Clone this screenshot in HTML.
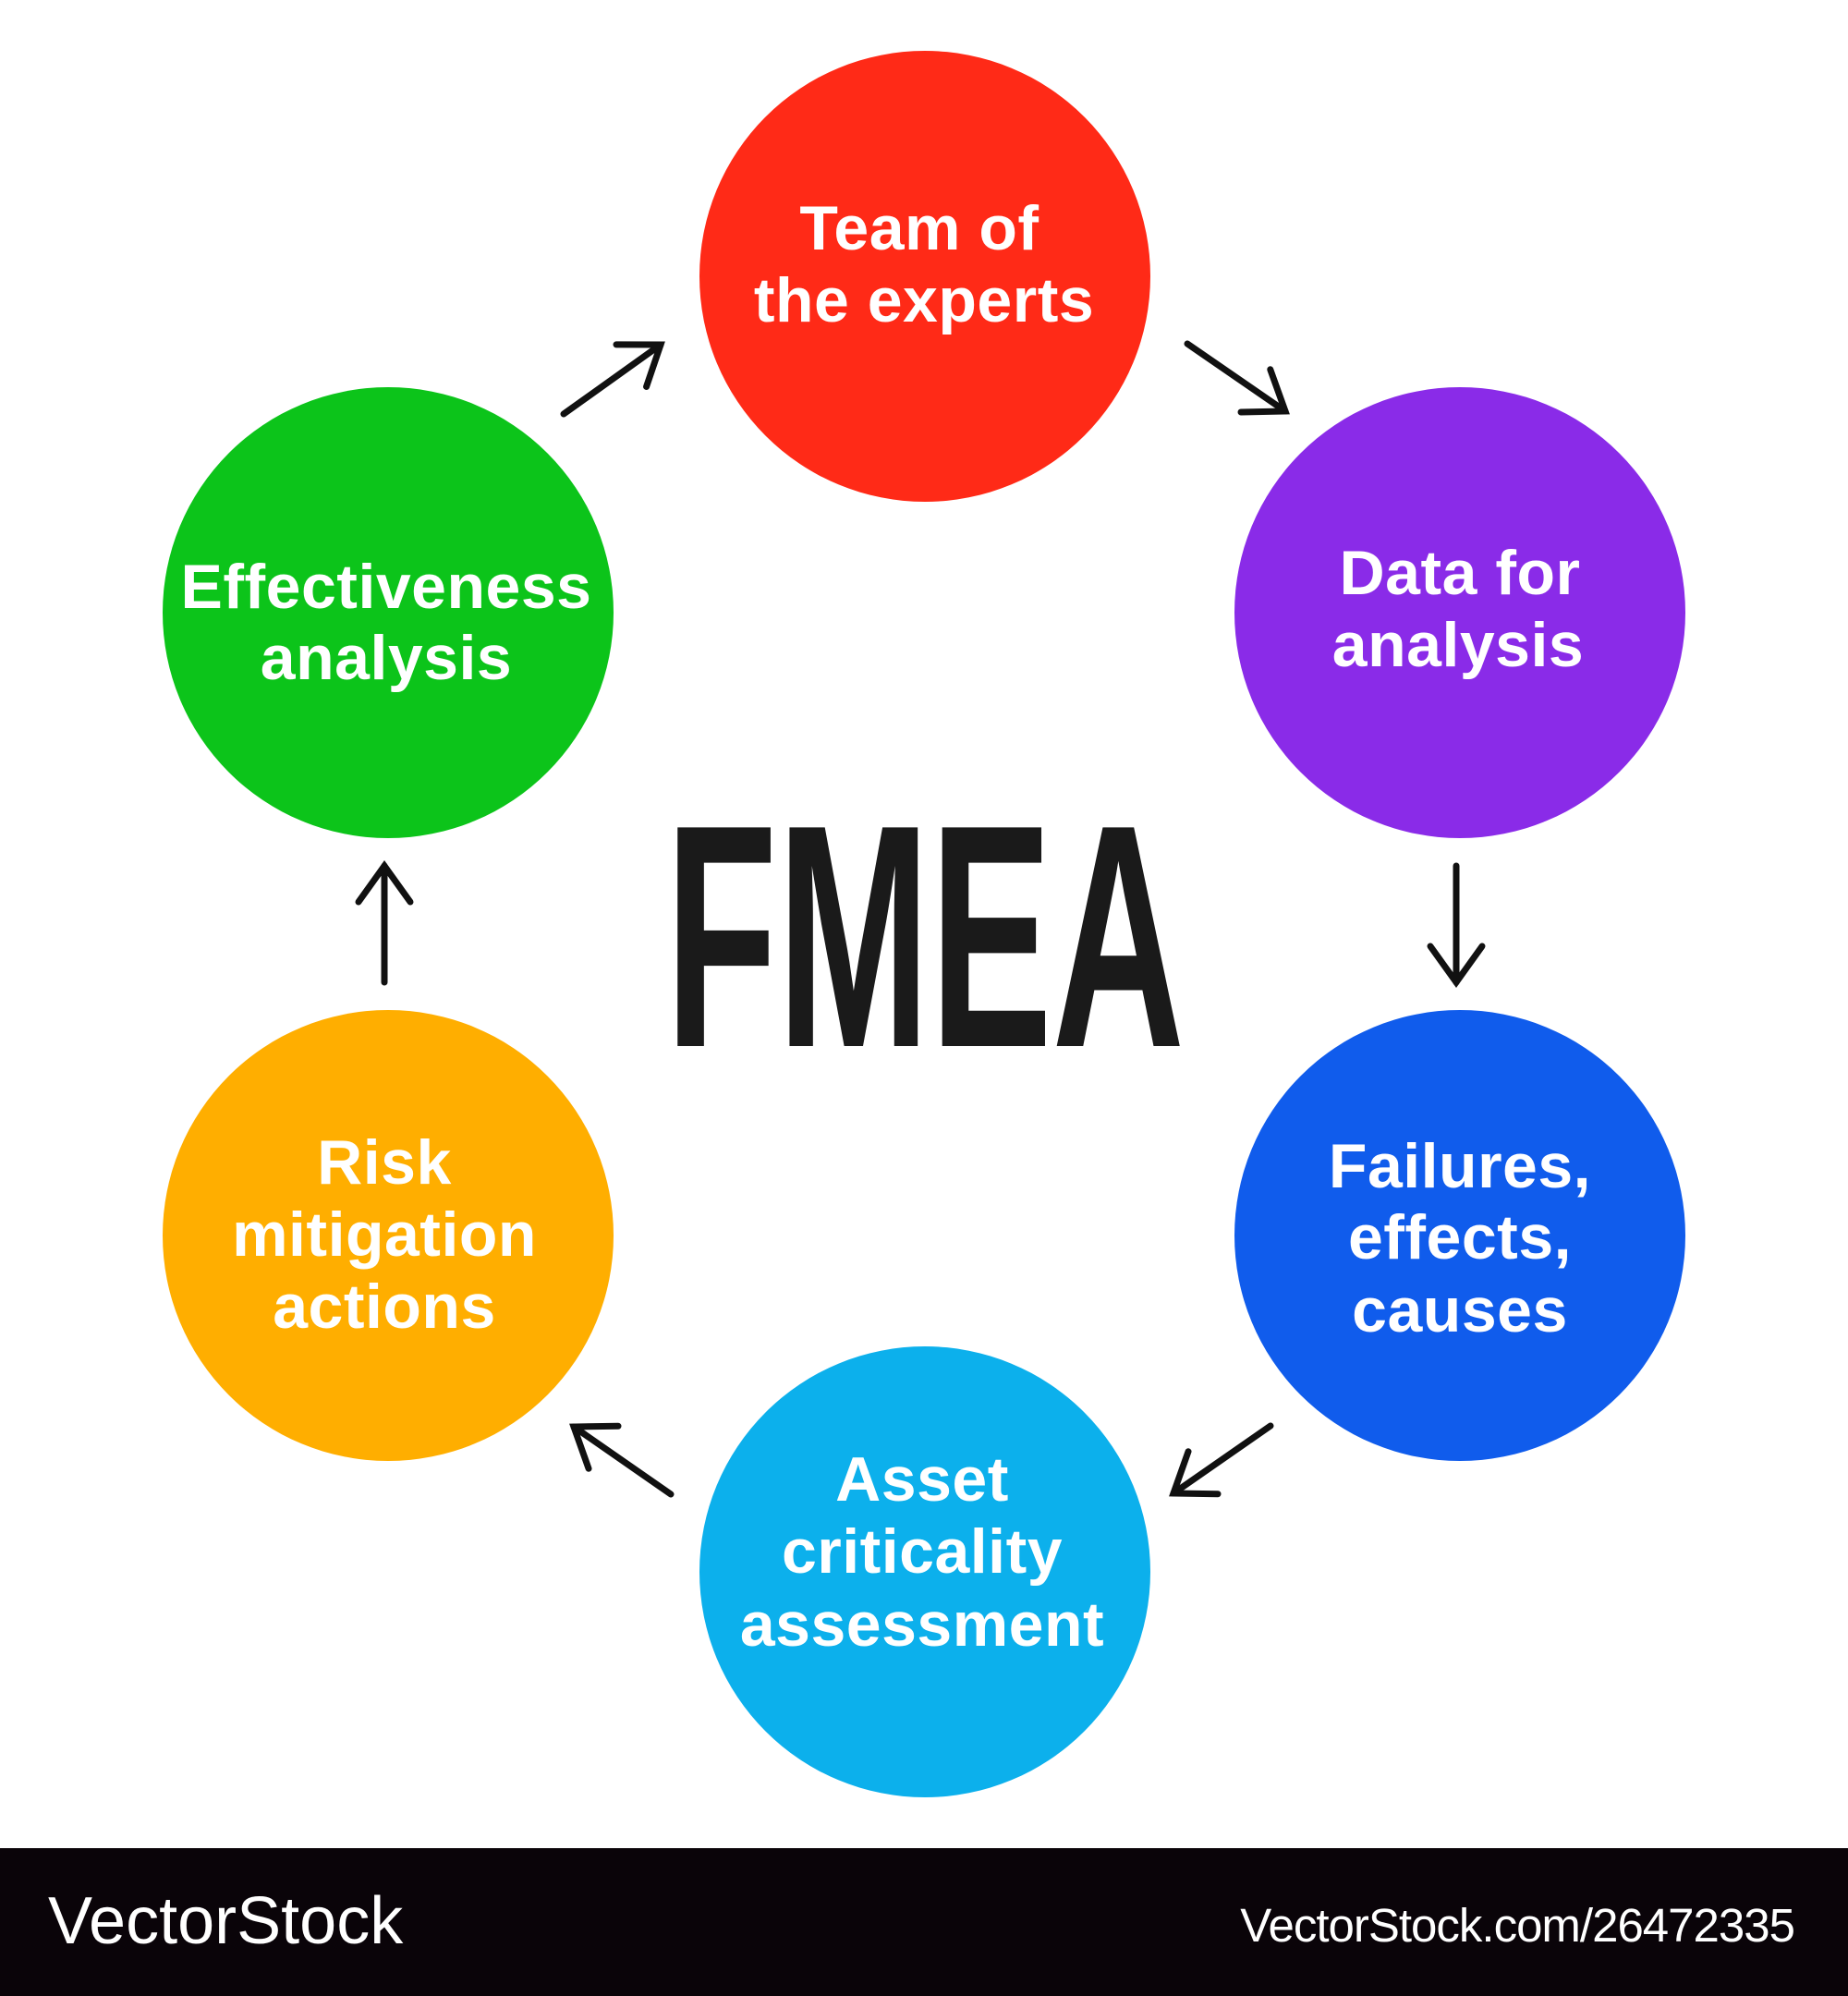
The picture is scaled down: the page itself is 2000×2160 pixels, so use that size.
<!DOCTYPE html>
<html><head><meta charset="utf-8"><style>
html,body{margin:0;padding:0;background:#fff;}
svg{display:block;}
</style></head><body>
<svg width="2000" height="2160" viewBox="0 0 2000 2160" xmlns="http://www.w3.org/2000/svg">
<defs>
<marker id="ah" viewBox="0 0 60 60" refX="57" refY="30" markerWidth="60" markerHeight="60" markerUnits="userSpaceOnUse" orient="auto" overflow="visible">
<path d="M18,2 L57,30 L18,58" fill="none" stroke="#111" stroke-width="7" stroke-linecap="round" stroke-linejoin="miter"/>
</marker>
</defs>
<rect width="2000" height="2160" fill="#fff"/>
<circle cx="1001" cy="299" r="244" fill="#ff2a17"/>
<circle cx="1580" cy="663" r="244" fill="#8a2be8"/>
<circle cx="1580" cy="1337" r="244" fill="#105cec"/>
<circle cx="1001" cy="1701" r="244" fill="#0cb0ec"/>
<circle cx="420" cy="1337" r="244" fill="#ffae00"/>
<circle cx="420" cy="663" r="244" fill="#0cc41a"/>
<g stroke="#111" stroke-width="7" fill="none" stroke-linecap="round" marker-end="url(#ah)">
<line x1="610" y1="448" x2="715" y2="373"/>
<line x1="1285" y1="372" x2="1391" y2="445"/>
<line x1="1576" y1="937" x2="1576" y2="1063"/>
<line x1="1375" y1="1543" x2="1270" y2="1616"/>
<line x1="726" y1="1617" x2="621" y2="1544"/>
<line x1="416" y1="1063" x2="416" y2="937"/>
</g>
<g font-family="Liberation Sans, sans-serif" font-size="68" font-weight="bold" fill="#fff" text-anchor="middle" letter-spacing="0.5">
<text x="995" y="270">Team of</text>
<text x="1000" y="348">the experts</text>
<text x="1580" y="643">Data for</text>
<text x="1578" y="721">analysis</text>
<text x="418" y="658">Effectiveness</text>
<text x="418" y="735">analysis</text>
<text x="1580" y="1285">Failures,</text>
<text x="1580" y="1362">effects,</text>
<text x="1580" y="1441">causes</text>
<text x="416" y="1281">Risk</text>
<text x="416" y="1359">mitigation</text>
<text x="416" y="1437">actions</text>
<text x="998" y="1624">Asset</text>
<text x="998" y="1702">criticality</text>
<text x="998" y="1781">assessment</text>
</g>
<text x="720" y="1132" font-family="Liberation Sans Narrow, Liberation Sans, sans-serif" font-weight="bold" font-size="344" fill="#1a1a1a" textLength="562" lengthAdjust="spacingAndGlyphs">FMEA</text>
<rect x="0" y="2000" width="2000" height="160" fill="#0a0409"/>
<text x="52" y="2103" font-family="Liberation Sans, sans-serif" font-size="72" fill="#fff" letter-spacing="0">VectorStock</text>
<text x="1942" y="2101" font-family="Liberation Sans, sans-serif" font-size="51" fill="#fff" text-anchor="end" letter-spacing="-1">VectorStock.com/26472335</text>
</svg>
</body></html>
